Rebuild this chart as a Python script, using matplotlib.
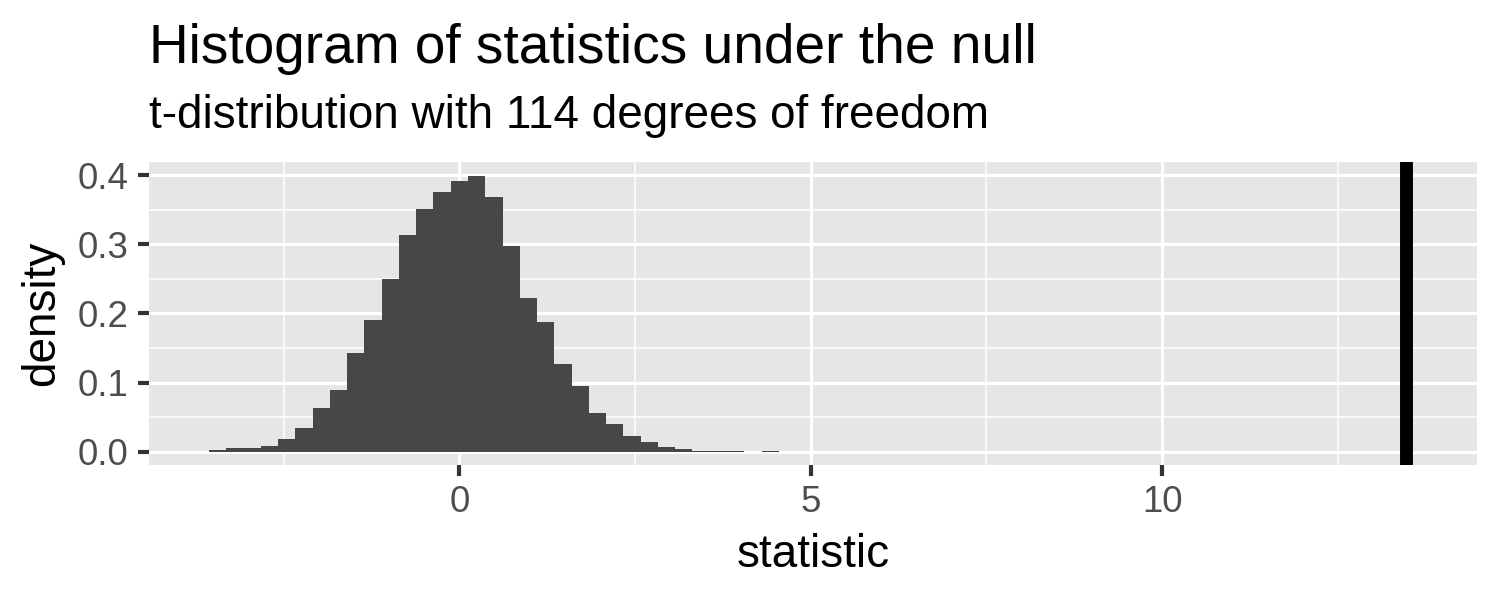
import numpy as np
import matplotlib
matplotlib.use('Agg')
import matplotlib.pyplot as plt
from matplotlib.ticker import MultipleLocator

plt.rcParams['font.family'] = ['Liberation Sans', 'DejaVu Sans']

# histogram: bin width, left edge of first bin, density per bin
bin_width = 0.2457
first_edge = -3.562
density = [0.0025, 0.005, 0.005, 0.008, 0.018, 0.034, 0.063, 0.089, 0.143, 0.190,
           0.250, 0.313, 0.351, 0.376, 0.392, 0.399, 0.368, 0.297, 0.222, 0.188,
           0.127, 0.095, 0.056, 0.040, 0.023, 0.014, 0.0068, 0.004, 0.0008, 0.0015,
           0.0008, 0.0, 0.0008]

# observed statistic (vertical line)
observed = 13.47

title = 'Histogram of statistics under the null'
subtitle = 't-distribution with 114 degrees of freedom'

edges = first_edge + bin_width * np.arange(len(density))

fig = plt.figure(figsize=(5, 2), dpi=300)
ax = fig.add_axes([149 / 1500, 1 - 465 / 600, (1476.7 - 149) / 1500, (465 - 162) / 600])
ax.set_facecolor('#E6E6E6')

ax.bar(edges, density, width=bin_width, align='edge', color='#474747', linewidth=0, zorder=3)
ax.axvline(observed, color='black', linewidth=3.1, zorder=4)

ax.set_xlim(-4.416, 14.478)
ax.set_ylim(-0.0192, 0.4188)

ax.xaxis.set_major_locator(MultipleLocator(5))
ax.xaxis.set_minor_locator(MultipleLocator(2.5))
ax.yaxis.set_major_locator(MultipleLocator(0.1))
ax.yaxis.set_minor_locator(MultipleLocator(0.05))
ax.yaxis.set_major_formatter(matplotlib.ticker.FormatStrFormatter('%.1f'))

ax.grid(which='major', color='white', linewidth=0.75, zorder=1)
ax.grid(which='minor', color='white', linewidth=0.38, zorder=1)
ax.set_axisbelow(True)

for s in ax.spines.values():
    s.set_visible(False)

ax.tick_params(which='major', length=2.7, width=1.0, color='#333333',
               labelsize=8.8, labelcolor='#4D4D4D', pad=2.2)
ax.tick_params(which='minor', length=0)

fig.text(149 / 1500, 1 - 63 / 600, title, fontsize=13.2, ha='left', va='baseline')
fig.text(149 / 1500, 1 - 128.3 / 600, subtitle, fontsize=11, ha='left', va='baseline')
fig.text(812.8 / 1500, 1 - 566.7 / 600, 'statistic', fontsize=11, ha='center', va='baseline')
fig.text(42 / 1500, 1 - 313.5 / 600, 'density', fontsize=11, rotation=90, ha='center', va='center')

fig.savefig('out.png', dpi=300, facecolor='white')
